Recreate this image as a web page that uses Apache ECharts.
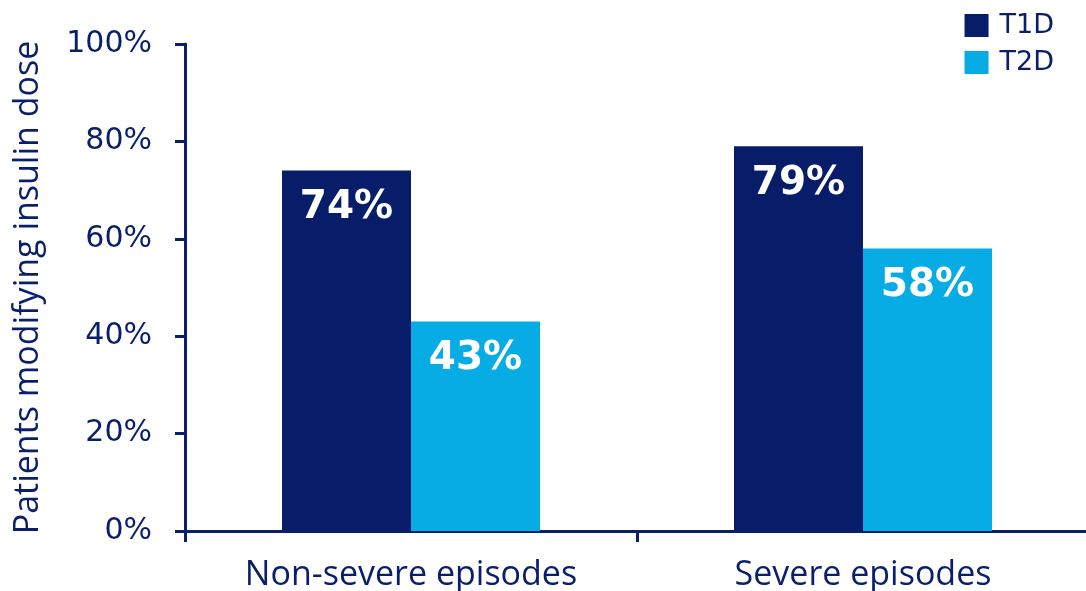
<!DOCTYPE html>
<html><head><meta charset="utf-8">
<script src="https://cdn.jsdelivr.net/npm/echarts@6/dist/echarts.min.js"></script>
<style>html,body{margin:0;padding:0;background:#fff}#c{width:1086px;height:591px}</style>
</head><body><div id="c"></div>
<script>
const categories = ['Non-severe episodes', 'Severe episodes'];
const seriesNames = ['T1D', 'T2D'];
const t1d = [74, 79];
const t2d = [43, 58];
const yTicks = [0, 20, 40, 60, 80, 100];

const navy = '#0a1f6b';
const c1 = '#071d69';
const c2 = '#08ace5';

const chart = echarts.init(document.getElementById('c'), null, {renderer: 'canvas'});
const labelStyle = {
  show: true, position: 'insideTop', distance: 18,
  formatter: p => p.value + '%',
  color: '#fff', fontFamily: 'DejaVu Sans', fontWeight: 'bold', fontSize: 39
};
chart.setOption({
  animation: false,
  legend: {
    orient: 'vertical', right: 27, top: 7, itemWidth: 24, itemHeight: 23, itemGap: 10,
    icon: 'rect',
    textStyle: {color: navy, fontFamily: 'DejaVu Sans', fontSize: 27, padding: [0,0,0,6]},
    data: seriesNames
  },
  grid: {left: 185, top: 44, width: 904, height: 487, containLabel: false, outerBoundsMode: 'none'},
  xAxis: {
    type: 'category', data: categories,
    axisLine: {lineStyle: {color: navy, width: 3}},
    axisTick: {show: true, length: 11, lineStyle: {color: navy, width: 3}},
    axisLabel: {color: navy, fontFamily: 'Open Sans', fontSize: 34, margin: 27}
  },
  yAxis: {
    type: 'value', min: 0, max: 100, interval: 20,
    name: 'Patients modifying insulin dose', nameLocation: 'middle', nameGap: 140, nameRotate: 90,
    nameTextStyle: {color: navy, fontFamily: 'Open Sans', fontSize: 34},
    axisLine: {show: true, lineStyle: {color: navy, width: 3}},
    axisTick: {show: true, length: 10, lineStyle: {color: navy, width: 3}},
    splitLine: {show: false},
    axisLabel: {color: navy, fontFamily: 'DejaVu Sans', fontSize: 30, margin: 33,
      formatter: v => yTicks.includes(v) ? v + '%' : ''}
  },
  series: [
    {name: seriesNames[0], type: 'bar', data: t1d, barWidth: 129, barGap: '0%',
     itemStyle: {color: c1}, label: labelStyle},
    {name: seriesNames[1], type: 'bar', data: t2d, barWidth: 129, barGap: '0%',
     itemStyle: {color: c2}, label: labelStyle}
  ]
});
</script></body></html>
